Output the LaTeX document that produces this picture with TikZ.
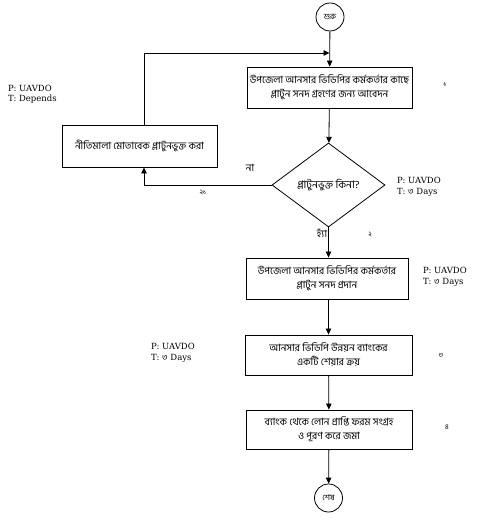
\documentclass[tikz,border=0pt]{standalone}
\usepackage{fontspec}
\setmainfont{DejaVu Serif}
\newfontfamily\bn[Script=Bengali]{Hind Siliguri}
\usetikzlibrary{shapes.geometric,arrows.meta}
\tikzset{
  procbox/.style={draw,line width=0.9pt,minimum width=165pt,minimum height=41pt,inner sep=1pt,align=center,font=\bn\fontsize{10}{14}\selectfont},
  termnode/.style={draw,circle,line width=0.8pt,minimum size=28pt,inner sep=0pt,font=\bn\fontsize{8}{9}\selectfont},
  decnode/.style={draw,diamond,line width=0.8pt,minimum width=113pt,minimum height=84pt,inner sep=0pt,font=\bn\fontsize{10.5}{12}\selectfont},
  arr/.style={line width=0.8pt,-{Triangle[length=6pt,width=5.5pt]}},
  info/.style={align=left,font=\fontsize{8.5}{10.5}\selectfont,inner sep=0pt,anchor=west},
  stepno/.style={font=\bn\fontsize{7}{8}\selectfont,inner sep=0pt},
  lbl/.style={font=\bn\fontsize{10}{11}\selectfont,inner sep=0pt}
}
\begin{document}
\begin{tikzpicture}[x=1pt,y=-1pt]
\useasboundingbox (0,0) rectangle (491,521);
\node[termnode] (start) at (330,17) {শুরু};
\node[procbox] (b1) at (329.5,87.5) {উপজেলা আনসার ভিডিপির কর্মকর্তার কাছে\\প্লাটুন সনদ গ্রহণের জন্য আবেদন};
\node[procbox,minimum width=155pt,minimum height=42pt] (pol) at (139.5,146) {নীতিমালা মোতাবেক প্লাটুনভুক্ত করা};
\node[decnode] (dec) at (328.5,185) {প্লাটুনভুক্ত কিনা?};
\node[procbox,minimum width=162pt] (b2) at (327,278.5) {উপজেলা আনসার ভিডিপির কর্মকর্তার\\প্লাটুন সনদ প্রদান};
\node[procbox,minimum width=167pt,minimum height=40pt] (b3) at (328.5,355) {আনসার ভিডিপি উন্নয়ন ব্যাংকের\\একটি শেয়ার ক্রয়};
\node[procbox,minimum width=166pt,minimum height=39pt] (b4) at (329,429.5) {ব্যাংক থেকে লোন প্রাপ্তি ফরম সংগ্রহ\\ও পূরণ করে জমা};
\node[termnode] (end) at (328.5,498) {শেষ};
\coordinate (join) at (329.5,53);

\draw[arr] (start) -- (b1);
\draw[arr] (b1) -- (dec);
\draw[arr] (dec.west) -| ([xshift=4.5pt]pol.south);
\draw[arr] ([xshift=4.5pt]pol.north) |- (join);
\draw[arr] (dec.south) -- (dec.south |- b2.north);
\draw[arr] (b2.south -| b3.north) -- (b3.north);
\draw[arr] (b3) -- (b4);
\draw[arr] (b4) -- (end);

\node[lbl] (na) at (250,168) {না};
\node[lbl] (ha) at (322,233) {হ্যাঁ};
\node[stepno] (s21) at (203,193) {২১};
\node[stepno] (s1) at (445,85) {১};
\node[stepno] (s2) at (370,235) {২};
\node[stepno] (s3) at (441,355) {৩};
\node[stepno] (s4) at (447,427) {৪};

\node[info] (i0) at (8,94) {P: UAVDO\\T: Depends};
\node[info] (i1) at (397,187) {P: UAVDO\\T: {\bn ৩} Days};
\node[info] (i2) at (423,277) {P: UAVDO\\T: {\bn ৩} Days};
\node[info] (i3) at (151,353) {P: UAVDO\\T: {\bn ৩} Days};
\end{tikzpicture}
\end{document}
